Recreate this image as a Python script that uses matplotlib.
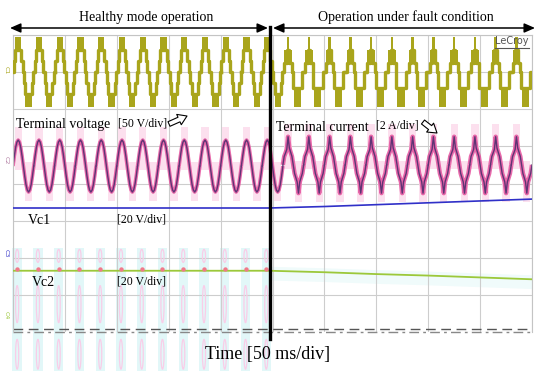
import numpy as np
import matplotlib
matplotlib.use('Agg')
from matplotlib import pyplot as plt
from matplotlib.patches import Rectangle, Ellipse, FancyArrowPatch
from matplotlib.lines import Line2D

# time base: 50 ms/div, 10 div on screen; vertical: 8 div
ms_per_div = 50
screen_ms = 500
fault_start_ms = 247
period_ms = 20

# C1 terminal voltage: one cycle as (fraction of period, low level, high level) in div
c1_center = 7.0
c1_healthy = [(0.04, 0.0, 0.0), (0.06, 0.3, 0.3), (0.30, 0.6, 0.95), (0.06, 0.3, 0.3),
              (0.08, 0.0, 0.0), (0.06, -0.3, -0.3), (0.30, -0.95, -0.6), (0.06, -0.3, -0.3),
              (0.04, 0.0, 0.0)]
c1_fault = [(0.07, 0.0, 0.0), (0.12, 0.25, 0.6), (0.12, 0.6, 0.95), (0.12, 0.25, 0.6),
            (0.04, 0.0, 0.0), (0.05, -0.43, -0.43), (0.34, -0.95, -0.43), (0.05, -0.43, -0.43),
            (0.09, 0.0, 0.0)]

# C2 terminal current: one cycle sampled at 16 points (normalised)
c2_healthy_shape = [0, 0.38, 0.71, 0.92, 1.0, 0.92, 0.71, 0.38,
                    0, -0.38, -0.71, -0.92, -1.0, -0.92, -0.71, -0.38]
c2_fault_shape = [0.0, 0.3, 0.42, 0.55, 1.0, 0.6, 0.45, 0.3,
                  0.0, -0.3, -0.45, -0.6, -1.0, -0.6, -0.45, -0.3]
c2_healthy_center, c2_healthy_amp = 4.47, 0.70
c2_fault_center, c2_fault_amp = 4.50, 0.76

# capacitor voltages (div) read at a few times (ms)
vc1_t = [0, 247, 300, 350, 400, 450, 500]
vc1_v = [3.34, 3.34, 3.38, 3.43, 3.48, 3.53, 3.58]
vc2_t = [0, 247, 300, 350, 400, 450, 500]
vc2_v = [1.65, 1.65, 1.61, 1.56, 1.52, 1.47, 1.42]

W, H = 550, 371
fig = plt.figure(figsize=(5.5, 3.71), dpi=100)
fig.patch.set_facecolor('white')


def fx(x):
    return x / W


def fy(y):
    return 1 - y / H


ax = fig.add_axes([fx(13), fy(332), fx(532) - fx(13), fy(35) - fy(332)])
ax.set_xlim(0, screen_ms)
ax.set_ylim(0, 8)
ax.set_xticks(np.arange(0, screen_ms + 1, ms_per_div))
ax.set_yticks(np.arange(0, 9, 1))
ax.tick_params(length=0, labelbottom=False, labelleft=False)
ax.grid(True, color='#cdcdcd', lw=0.8)
for name, sp in ax.spines.items():
    sp.set_color('#c4c4c4')
    sp.set_linewidth(0.8)
ax.spines['bottom'].set_visible(False)
ax.set_axisbelow(True)

olive = '#a9a51c'
n_cycles = screen_ms // period_ms
starts = [k * period_ms for k in range(n_cycles)]

# ---- scope ghost artifacts in lower-left region
for t0 in starts:
    tc = t0 + period_ms * 0.2
    if tc > fault_start_ms:
        break
    ax.add_patch(Rectangle((tc - 4.5, -1.05), 9, 3.3, fc='#e2f7f8', ec='none', zorder=0.5,
                           clip_on=False))
    for yc, hh in [(2.05, 0.35), (0.75, 1.0), (-0.6, 0.8)]:
        ax.add_patch(Ellipse((tc, yc), 3.0, hh, fc='none', ec='#f9cde8', lw=0.9, zorder=0.6,
                             clip_on=False))

# faint cyan band around Vc2 in fault region
ax.fill_between(vc2_t[1:], np.array(vc2_v[1:]) - 0.25, np.array(vc2_v[1:]) + 0.12,
                color='#f0fbfb', lw=0, zorder=0.5)

# ---- C1 stepped voltage
for t0 in starts:
    segs = c1_healthy if t0 < fault_start_ms else c1_fault
    xs, ys = [], []
    t = t0
    for frac, lo, hi in segs:
        t1 = t + frac * period_ms
        if hi != lo:
            ax.fill_between([t, t1], c1_center + lo, c1_center + hi, color=olive, lw=0, zorder=3)
            lvl = lo if lo > 0 else hi
        else:
            lvl = lo
        xs += [t, t1]
        ys += [c1_center + lvl, c1_center + lvl]
        t = t1
    ax.plot(xs, ys, color=olive, lw=2.4, zorder=3)

# ---- C2 current
for t0 in starts:
    fault = t0 >= fault_start_ms
    shape = c2_fault_shape if fault else c2_healthy_shape
    cen = c2_fault_center if fault else c2_healthy_center
    amp = c2_fault_amp if fault else c2_healthy_amp
    n = len(shape)
    xs = [t0 + period_ms * i / n for i in range(n + 1)]
    ys = [cen + amp * v for v in shape + shape[:1]]
    # persistence shading at peak and trough
    ax.add_patch(Rectangle((t0 + period_ms * 0.25 - 3.5, cen - 0.1), 7, amp + 0.45,
                           fc='#fce0ee', ec='none', zorder=1))
    ax.add_patch(Rectangle((t0 + period_ms * 0.75 - 3.5, cen - amp - 0.25), 7, amp + 0.35,
                           fc='#fce0ee', ec='none', zorder=1))
    ax.plot(xs, ys, color='#e4509c', lw=3.2 if fault else 2.6, alpha=0.85, zorder=2,
            solid_capstyle='butt')
    ax.plot(xs, ys, color='#5e3474', lw=1.0, zorder=2.5)

# ---- capacitor voltages
ax.plot(vc1_t, vc1_v, color='#3030c8', lw=1.2, zorder=3)
ax.plot(vc2_t, vc2_v, color='#9cc83a', lw=1.3, zorder=3)
bump_t = [t0 + period_ms * 0.2 for t0 in starts if t0 + period_ms * 0.2 < fault_start_ms]
ax.scatter(bump_t, [vc2_v[0] + 0.05] * len(bump_t), s=10, color='#f07a8a', lw=0, zorder=3.2)

# ground reference dashes
ax.axhline(0.08, color='#555555', lw=1.0, dashes=(7, 4), zorder=2)
ax.axhline(0.0, color='#888888', lw=1.0, dashes=(7, 3, 2, 3), zorder=2, clip_on=False)

# ---- overlays in pixel coordinates
fig.add_artist(Line2D([fx(270), fx(270)], [fy(27), fy(339)], color='black', lw=2.4))

arrow_kw = dict(arrowstyle='<|-|>,head_length=0.8,head_width=0.35', color='black', lw=1.1,
                shrinkA=0, shrinkB=0, mutation_scale=8, transform=fig.transFigure)
fig.add_artist(FancyArrowPatch((fx(10), fy(28)), (fx(268), fy(28)), **arrow_kw))
fig.add_artist(FancyArrowPatch((fx(273), fy(28)), (fx(535), fy(28)), **arrow_kw))

serif = 'Liberation Serif'
fig.text(fx(146), fy(17), 'Healthy mode operation', family=serif, fontsize=10,
         ha='center', va='center')
fig.text(fx(406), fy(17), 'Operation under fault condition', family=serif, fontsize=10,
         ha='center', va='center')
fig.text(fx(268), fy(355), 'Time [50 ms/div]', family=serif, fontsize=13,
         ha='center', va='center')

fig.text(fx(16), fy(124), 'Terminal voltage', family=serif, fontsize=10, va='center')
fig.text(fx(118), fy(123), '[50 V/div]', family=serif, fontsize=8.5, va='center')
fig.text(fx(276), fy(127), 'Terminal current', family=serif, fontsize=10, va='center')
fig.text(fx(376), fy(126), '[2 A/div]', family=serif, fontsize=8.5, va='center')
fig.text(fx(28), fy(220), 'Vc1', family=serif, fontsize=10, va='center')
fig.text(fx(117), fy(219), '[20 V/div]', family=serif, fontsize=8.5, va='center')
fig.text(fx(32), fy(283), 'Vc2', family=serif, fontsize=10, va='center')
fig.text(fx(117), fy(281), '[20 V/div]', family=serif, fontsize=8.5, va='center')

hollow = dict(arrowstyle='simple,head_width=0.9,head_length=0.7,tail_width=0.4',
              fc='white', ec='black', lw=0.8, shrinkA=0, shrinkB=0, mutation_scale=9,
              transform=fig.transFigure)
fig.add_artist(FancyArrowPatch((fx(169), fy(124)), (fx(187), fy(116)), **hollow))
fig.add_artist(FancyArrowPatch((fx(423), fy(122)), (fx(437), fy(133)), **hollow))

fig.text(fx(512), fy(41), 'LeCroy', fontsize=7, color='#555555', ha='center', va='center')
fig.add_artist(Line2D([fx(495), fx(529)], [fy(48), fy(48)], color='#555555', lw=0.8))

# channel markers on the left
for lbl, yy, col in [('C1', 70, olive), ('C2', 160, '#b07aa0'), ('C3', 253, '#3030c8'),
                     ('C4', 315, '#9cc83a')]:
    fig.text(fx(6), fy(yy), lbl, fontsize=4.5, color=col, rotation=270, ha='center',
             va='center')

fig.savefig('out.png', dpi=100)
